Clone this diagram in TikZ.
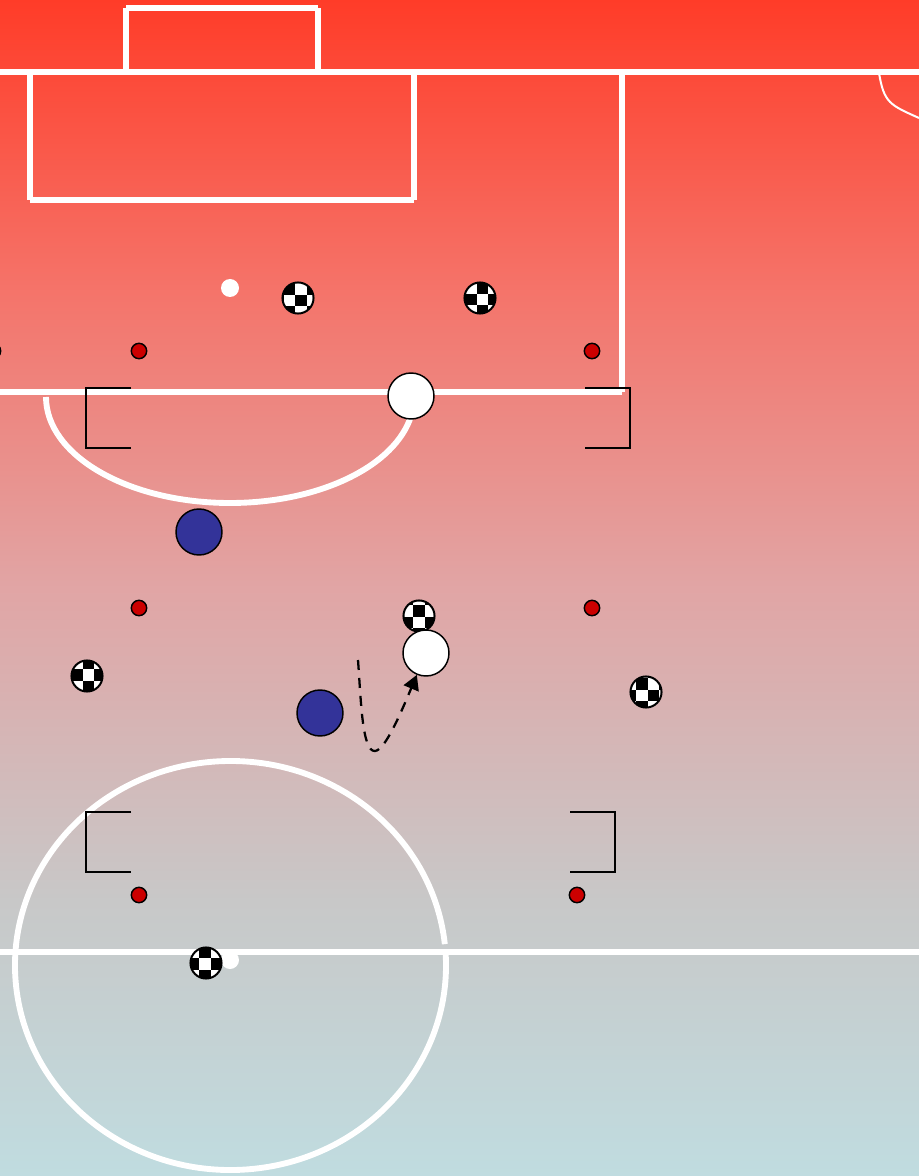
\documentclass[tikz,border=0pt]{standalone}
\usetikzlibrary{arrows.meta}
\definecolor{bluep}{RGB}{51,51,153}
\definecolor{redd}{RGB}{204,0,0}
\pgfdeclareverticalshading{pitchbg}{100bp}{
 rgb(0bp)=(0.753,0.863,0.878);
 rgb(25bp)=(0.753,0.863,0.878);
 rgb(36.7bp)=(0.784,0.784,0.784);
 rgb(50bp)=(0.882,0.647,0.647);
 rgb(62.8bp)=(0.961,0.451,0.412);
 rgb(75bp)=(1,0.235,0.157);
 rgb(100bp)=(1,0.235,0.157)}
\tikzset{
 x=0.75pt,y=-0.75pt,
 pline/.style={white,line width=4.5pt,line cap=butt},
 cline/.style={white,line width=4.4pt,line cap=butt},
 thinblk/.style={black,line width=1.5pt},
 dot/.style={circle,draw=black,line width=1.1pt,fill=redd,minimum size=11.5pt,inner sep=0pt},
 player/.style={circle,draw=black,line width=1.1pt,minimum size=34.5pt,inner sep=0pt},
 wdot/.style={circle,fill=white,minimum size=13.5pt,inner sep=0pt},
 ballnode/.style={circle,draw=black,line width=1.5pt,minimum size=23.3pt,inner sep=0pt},
}
% \ballat{name}{x}{y}{dx}{dy}: (dx,dy) = offset of a white cell's centre
\newcommand{\ballat}[5]{%
 \begin{scope}
  \clip (#2,#3) circle[radius=12pt];
  \fill[white] (#2-20,#3-20) rectangle (#2+20,#3+20);
  \foreach \i in {-3,...,3}{\foreach \j in {-3,...,3}{%
    \pgfmathparse{int(mod(\i+\j+6,2))}
    \ifnum\pgfmathresult=1
     \fill[black] ({#2+#4+(\i-.5)*11.5},{#3+#5+(\j-.5)*11.5}) rectangle ({#2+#4+(\i+.5)*11.5},{#3+#5+(\j+.5)*11.5});
    \fi}}
 \end{scope}
 \node[ballnode] (#1) at (#2,#3) {};
}
\begin{document}
\begin{tikzpicture}
\useasboundingbox (0,0) rectangle (919,1176);
\begin{scope}
\clip (0,0) rectangle (919,1176);
\shade[shading=pitchbg] (0,0) rectangle (919,1176);
% pitch lines
\draw[pline] (126,72) -- (126,8);
\draw[pline] (318,72) -- (318,8);
\draw[pline] (126,8) -- (318,8);
\draw[pline] (0,72) -- (919,72);
\draw[pline] (30,72) -- (30,200);
\draw[pline] (414,72) -- (414,200);
\draw[pline] (30,200) -- (414,200);
\draw[pline] (622,72) -- (622,392);
\draw[pline] (0,392) -- (622,392);
\draw[cline] (46,397) arc[start angle=180,end angle=10,x radius=184,y radius=106];
\draw[pline] (0,951.5) -- (919,951.5);
\draw[cline] ({230.5+215.5*cos(6)},{965.5-204.5*sin(6)}) arc[start angle=-6,end angle=-364,x radius=215.5,y radius=204.5];
\draw[white,line width=1.5pt] (879,73) .. controls (884,103) and (890,105) .. (919,118);
% guide brackets
\draw[thinblk] (131,388) -- (86,388) -- (86,448) -- (131,448);
\draw[thinblk] (585,388) -- (630,388) -- (630,448) -- (585,448);
\draw[thinblk] (131,812) -- (86,812) -- (86,872) -- (131,872);
\draw[thinblk] (570,812) -- (615,812) -- (615,872) -- (570,872);
% small dots
\node[dot] (d0) at (-7,351) {};
\node[dot] (d1) at (139,351) {};
\node[dot] (d2) at (592,351) {};
\node[dot] (d3) at (139,608) {};
\node[dot] (d4) at (592,608) {};
\node[dot] (d5) at (139,895) {};
\node[dot] (d6) at (577,895) {};
\node[wdot] (s1) at (230,288) {};
\node[wdot] (s2) at (230,960) {};
% balls
\ballat{b1}{298}{298}{3}{-9}
\ballat{b2}{480}{298}{2.7}{1.7}
\ballat{b3}{419}{616}{0}{6.5}
\ballat{b4}{87}{676}{1.7}{-1}
\ballat{b5}{646}{692}{-4}{3.5}
\ballat{b6}{206}{963}{-1}{1}
% players
\node[player,fill=bluep] (p1) at (199,532) {};
\node[player,fill=bluep] (p2) at (320,713) {};
\node[player,fill=white] (p3) at (411,396) {};
\node[player,fill=white] (p4) at (426,653) {};
% run
\coordinate (runstart) at (358,660);
\draw[black,line width=1.7pt,dash pattern=on 7.5pt off 6pt,-{Triangle[length=11pt,width=12pt]}]
  (runstart) .. controls (361,700) and (362,752) .. (375,751) .. controls (385,750) and (400,715) .. (p4);
\end{scope}
\end{tikzpicture}
\end{document}
